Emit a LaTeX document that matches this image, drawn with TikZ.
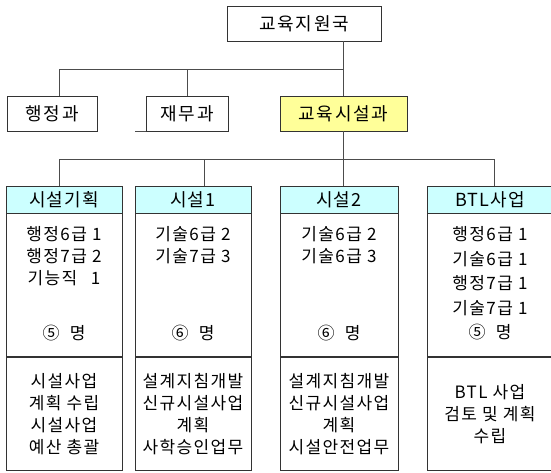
\documentclass[tikz,border=0pt]{standalone}
\usepackage{fontspec}
\setmainfont{Noto Sans CJK KR}[LetterSpace=8]
\usetikzlibrary{positioning}

\definecolor{headcyan}{HTML}{CCFFFF}
\definecolor{deptyellow}{HTML}{FFFF99}

\tikzset{
    unit/.style={draw=black!80, line width=0.8pt, inner sep=0pt, minimum height=35,
        font=\fontsize{18}{20}\addfontfeature{LetterSpace=10}\selectfont},
    head/.style={unit, fill=headcyan, minimum height=27,
        font=\fontsize{18}{20}\addfontfeature{LetterSpace=6}\selectfont},
    staffbox/.style={unit, minimum height=143, below=0pt of #1},
    workbox/.style={unit, minimum height=113, align=center,
        font=\fontsize{17}{22.3}\selectfont, below=0pt of #1},
    list/.style={inner sep=0pt, align=center, font=\fontsize{17}{21.7}\selectfont},
    link/.style={draw=black!70, line width=0.8pt},
}

\begin{document}
\begin{tikzpicture}[x=1pt, y=-1pt]
    \clip (0, 0) rectangle (551, 472);

    % departments
    \node[unit, minimum width=154] (office) at (304, 23.5) {교육지원국};
    \node[unit, minimum width=90] (admin) at (52, 113.5) {행정과};
    \node[unit, minimum width=82] (finance) at (187, 113.5) {재무과};
    \node[unit, minimum width=127, fill=deptyellow] (facility) at (343.5, 113.5) {교육시설과};

    % teams
    \node[head, minimum width=116] (head1) at (64, 199.5) {시설기획};
    \node[head, minimum width=116] (head2) at (193, 199.5) {시설1};
    \node[head, minimum width=118] (head3) at (339, 199.5) {시설2};
    \node[head, minimum width=126] (head4) at (490, 199.5) {BTL사업};

    \node[staffbox=head1, minimum width=116] (staff1) {};
    \node[staffbox=head2, minimum width=116] (staff2) {};
    \node[staffbox=head3, minimum width=118] (staff3) {};
    \node[staffbox=head4, minimum width=126] (staff4) {};

    \node[list, below=13pt of staff1.north] (list1) {행정6급 1\\행정7급 2\\기능직\hspace{0.5em} 1};
    \node[list, below=13pt of staff2.north] (list2) {기술6급 2\\기술7급 3};
    \node[list, below=13pt of staff3.north] (list3) {기술6급 2\\기술6급 3};
    \node[list, below=13pt of staff4.north, font=\fontsize{17}{24.5}\selectfont] (list4)
        {행정6급 1\\기술6급 1\\행정7급 1\\기술7급 1\\⑤\ \ 명};

    \node[list] (count1) at (staff1.center |- 0, 333) {⑤\ \ 명};
    \node[list] (count2) at (staff2.center |- 0, 333) {⑥\ \ 명};
    \node[list] (count3) at (staff3.center |- 0, 333) {⑥\ \ 명};

    \node[workbox=staff1, minimum width=116] (work1) {시설사업\\계획 수립\\시설사업\\예산 총괄};
    \node[workbox=staff2, minimum width=116] (work2) {설계지침개발\\신규시설사업\\계획\\사학승인업무};
    \node[workbox=staff3, minimum width=118] (work3) {설계지침개발\\신규시설사업\\계획\\시설안전업무};
    \node[workbox=staff4, minimum width=126] (work4) {BTL 사업\\검토 및 계획\\수립};

    % connectors
    \coordinate (busA) at (59, 69);
    \coordinate (busB) at (59, 159);
    \coordinate (dropB) at (204, 159);
    \coordinate (dropD) at (494, 159);

    \draw[link]
        (facility.north |- office.south) -- (facility.north)
        (busA) -- (busA -| facility.north)
        (busA) -- (busA |- admin.north)
        (finance.north) -- (finance.north |- busA)
        (finance.south west) -- ++(-11, 0)

        (facility.south) -- (facility.south |- busB)
        (busB) -- (dropD)
        (busB) -- (busB |- head1.north)
        (dropB) -- (dropB |- head2.north)
        (facility.south |- busB) -- (facility.south |- head3.north)
        (dropD) -- (dropD |- head4.north)
    ;
\end{tikzpicture}
\end{document}
